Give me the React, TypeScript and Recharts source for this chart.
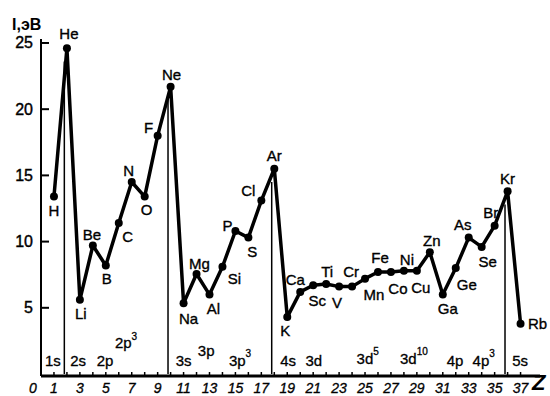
import { LineChart, Line, XAxis, YAxis, ReferenceLine, ReferenceDot } from "recharts";

// ionization energy (eV) by atomic number
const SYMBOLS = [
  "H", "He", "Li", "Be", "B", "C", "N", "O", "F", "Ne",
  "Na", "Mg", "Al", "Si", "P", "S", "Cl", "Ar",
  "K", "Ca", "Sc", "Ti", "V", "Cr", "Mn", "Fe", "Co", "Ni", "Cu", "Zn",
  "Ga", "Ge", "As", "Se", "Br", "Kr", "Rb",
];
const ENERGY = [
  13.4, 24.6, 5.6, 9.7, 8.2, 11.4, 14.5, 13.4, 18.0, 21.7,
  5.35, 7.55, 6.0, 8.1, 10.8, 10.3, 13.1, 15.5,
  4.3, 6.2, 6.7, 6.8, 6.6, 6.6, 7.2, 7.7, 7.7, 7.8, 7.8, 9.2,
  6.0, 8.0, 10.3, 9.6, 11.2, 13.8, 3.8,
];
const NOBLE_Z = [2, 10, 18, 36];

const Z_TICKS = [
  0, 1, 2, 3, 4, 5, 6, 7, 8, 9, 10, 11, 12, 13, 14, 15, 16, 17, 18, 19,
  20, 21, 22, 23, 24, 25, 26, 27, 28, 29, 30, 31, 32, 33, 34, 35, 36, 37, 38,
];
const E_TICKS = [5, 10, 15, 20, 25];

const SHELLS = ["1s", "2s", "2p", "2p", "3s", "3p", "3p", "4s", "3d", "3d", "3d", "4p", "4p", "5s"];
const SHELL_SUP = ["", "", "", "3", "", "", "3", "", "", "5", "10", "", "3", ""];

// layout: where the shell notes sit, in axis units [z, energy]
const SHELL_POS: [number, number][] = [
  [0.3, 1.05], [2.25, 1.05], [4.3, 1.05], [5.7, 2.35], [10.4, 1.05], [12.1, 1.8], [14.5, 1.05],
  [18.45, 1.05], [20.4, 1.05], [24.35, 1.2], [27.7, 1.2], [31.3, 1.05], [33.3, 1.05], [36.35, 1.05],
];

// label offsets (px) from each point
const LABEL_OFFSET: Record<string, [number, number]> = {
  H: [0, 14], He: [2, -15], Li: [1, 14], Be: [-1, -11], B: [1, 13], C: [9, 13], N: [-3, -12],
  O: [2, 13], F: [-9, -8], Ne: [1, -12], Na: [5, 15], Mg: [3, -11], Al: [4, 14], Si: [12, 12],
  P: [-8, -6], S: [4, 14], Cl: [-13, -10], Ar: [0, -13], K: [-2, 13], Ca: [-5, -12], Sc: [4, 15],
  Ti: [1, -12], V: [-2, 16], Cr: [-1, -15], Mn: [9, 16], Fe: [2, -15], Co: [7, 16], Ni: [3, -11],
  Cu: [4, 17], Zn: [2, -12], Ga: [5, 14], Ge: [11, 16], As: [-6, -13], Se: [6, 15], Br: [-4, -13],
  Kr: [0, -13], Rb: [17, 0],
};

const FONT = "'Liberation Sans', Arial, sans-serif";
const INK = "#000";

const data = SYMBOLS.map((sym, i) => ({ z: i + 1, e: ENERGY[i], sym }));

function ZTick(props: any) {
  const { x, y, payload } = props;
  const v = payload.value;
  const show = v === 0 || v % 2 === 1;
  return (
    <g>
      {v > 0 && v < 38 && <line x1={x} x2={x} y1={y} y2={y - 4} stroke={INK} strokeWidth={1.5} />}
      {show && (
        <text
          x={v === 0 ? x - 8 : x}
          y={y + 12}
          textAnchor="middle"
          dominantBaseline="central"
          fontStyle="italic"
          fontSize={14}
          fontFamily={FONT}
          fill={INK}
          stroke={INK}
          strokeWidth={0.3}
        >
          {v}
        </text>
      )}
    </g>
  );
}

function ETick(props: any) {
  const { x, y, payload } = props;
  return (
    <g>
      <line x1={x} x2={x + 8} y1={y} y2={y} stroke={INK} strokeWidth={2} />
      <text
        x={x - 8}
        y={y}
        textAnchor="end"
        dominantBaseline="central"
        fontSize={16}
        fontFamily={FONT}
        fill={INK}
        stroke={INK}
        strokeWidth={0.4}
      >
        {payload.value}
      </text>
    </g>
  );
}

function ElementDot(props: any) {
  const { cx, cy, payload, index } = props;
  const [dx, dy] = LABEL_OFFSET[payload.sym] ?? [0, -12];
  return (
    <g key={`d${index}`}>
      <circle cx={cx} cy={cy} r={4} fill={INK} />
      <text
        x={cx + dx}
        y={cy + dy}
        textAnchor="middle"
        dominantBaseline="central"
        fontSize={15}
        fontFamily={FONT}
        fill={INK}
        stroke={INK}
        strokeWidth={0.35}
      >
        {payload.sym}
      </text>
    </g>
  );
}

function ShellText({ cx, cy, text, sup }: { cx: number; cy: number; text: string; sup: string }) {
  return (
    <text
      x={cx}
      y={cy}
      dominantBaseline="central"
      fontSize={15}
      fontFamily={FONT}
      fill={INK}
      stroke={INK}
      strokeWidth={0.3}
    >
      {text}
      {sup && (
        <tspan fontSize={10} dy={-7}>
          {sup}
        </tspan>
      )}
    </text>
  );
}

export default function App() {
  return (
    <div style={{ position: "relative", width: 550, height: 396, background: "#fff" }}>
      <style>{`body{margin:0}`}</style>
      <LineChart width={550} height={396} data={data} margin={{ top: 39, right: 10, bottom: 0, left: 0 }}>
        <XAxis
          dataKey="z"
          type="number"
          domain={[0, 38.5]}
          ticks={Z_TICKS}
          interval={0}
          tick={<ZTick />}
          tickLine={false}
          tickSize={0}
          tickMargin={0}
          height={20}
          axisLine={{ stroke: INK, strokeWidth: 3 }}
        />
        <YAxis
          type="number"
          domain={[-0.15, 25.3]}
          ticks={E_TICKS}
          interval={0}
          tick={<ETick />}
          tickLine={false}
          tickSize={0}
          tickMargin={0}
          width={41}
          axisLine={{ stroke: INK, strokeWidth: 2 }}
        />
        {NOBLE_Z.map((z) => (
          <ReferenceLine
            key={z}
            segment={[
              { x: z - 0.2, y: 0 },
              { x: z - 0.2, y: ENERGY[z - 1] - 1 },
            ]}
            stroke={INK}
            strokeWidth={1.5}
          />
        ))}
        {SHELLS.map((s, i) => (
          <ReferenceDot
            key={`s${i}`}
            x={SHELL_POS[i][0]}
            y={SHELL_POS[i][1]}
            r={0}
            ifOverflow="visible"
            shape={(p: any) => <ShellText cx={p.cx} cy={p.cy} text={s} sup={SHELL_SUP[i]} />}
          />
        ))}
        <Line
          dataKey="e"
          stroke={INK}
          strokeWidth={3.5}
          strokeLinejoin="round"
          dot={(p: any) => <ElementDot key={`d${p.index}`} {...p} />}
          activeDot={false}
          isAnimationActive={false}
        />
      </LineChart>
      <span
        style={{
          position: "absolute",
          left: 12,
          top: 16,
          fontFamily: FONT,
          fontWeight: "bold",
          fontSize: 16,
          lineHeight: "18px",
        }}
      >
        I,эВ
      </span>
      <span
        style={{
          position: "absolute",
          left: 532,
          top: 371,
          fontFamily: FONT,
          fontWeight: "bold",
          fontStyle: "italic",
          fontSize: 22,
          lineHeight: "24px",
        }}
      >
        Z
      </span>
    </div>
  );
}
